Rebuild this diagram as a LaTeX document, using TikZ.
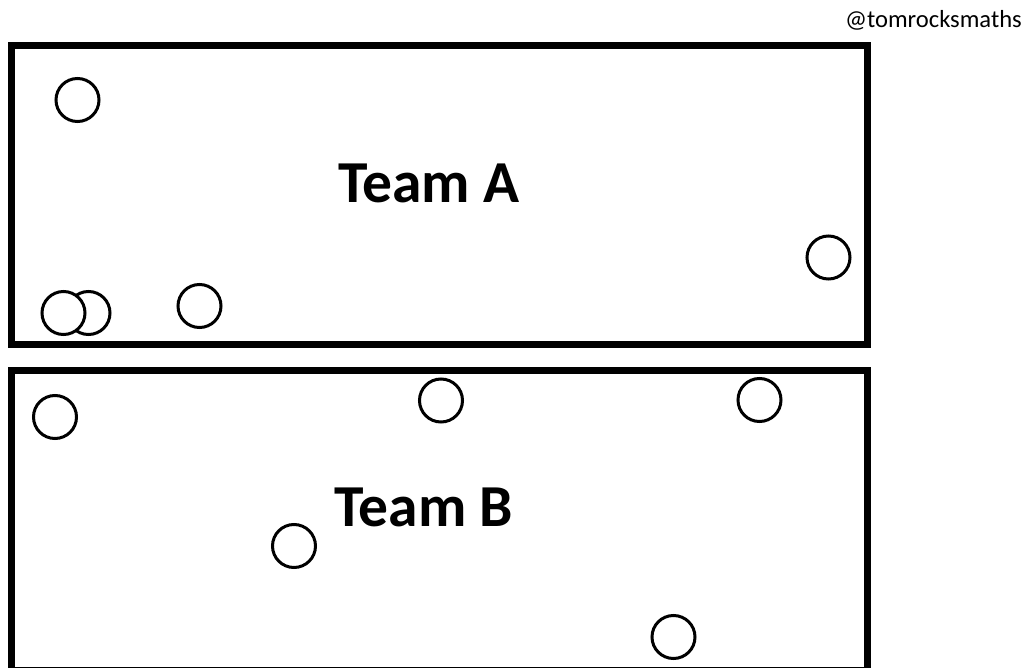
\documentclass[tikz,border=0pt]{standalone}
\usepackage{fontspec}
\setmainfont{Carlito}
\begin{document}
\begin{tikzpicture}[x=1pt,y=-1pt,
  team/.style={line width=7pt, draw=black},
  player/.style={circle, draw=black, fill=white, line width=3pt, minimum size=43pt, inner sep=0pt},
  label/.style={font=\fontsize{59.5}{62}\selectfont\bfseries, anchor=base, inner sep=0pt},
  credit/.style={font=\fontsize{24.6}{26}\selectfont, anchor=base east, inner sep=0pt}]
\useasboundingbox (0,0) rectangle (1029,668);
\clip (0,0) rectangle (1029,668);
\fill[white] (0,0) rectangle (1029,668);
% team boxes
\draw[team] (11.5,45.5) rectangle (867.5,344.5);
\draw[team] (11.5,370.5) rectangle (867.5,670.5);
% labels
\node[credit] (credit) at (1022,28) {@tomrocksmaths};
\node[label] (ta) at (429,203) {Team A};
\node[label] (tb) at (424,526) {Team B};
% team A players
\node[player] (a1) at (77.5,100) {};
\node[player] (a2) at (828.5,257.5) {};
\node[player] (a3) at (88.5,313) {};
\node[player] (a4) at (63.5,313) {};
\node[player] (a5) at (199.5,306) {};
% team B players
\node[player] (b1) at (55,417) {};
\node[player] (b2) at (441,400.5) {};
\node[player] (b3) at (759.5,400) {};
\node[player] (b4) at (294,546) {};
\node[player] (b5) at (673.5,637) {};
\end{tikzpicture}
\end{document}
